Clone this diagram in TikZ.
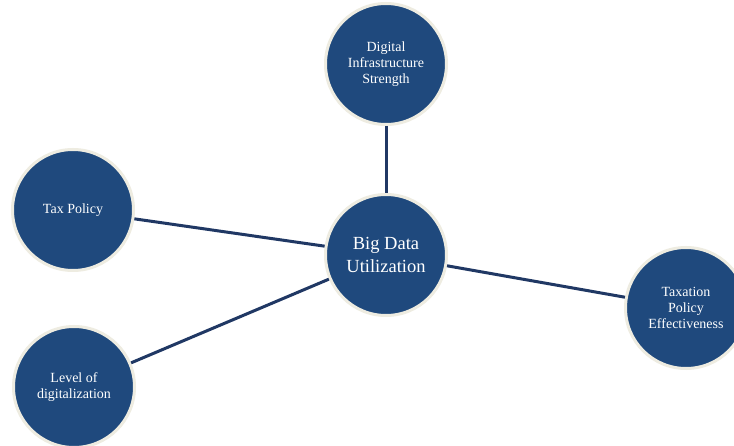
\documentclass[tikz,border=0pt]{standalone}
\usepackage{fontspec}
\setmainfont{Liberation Serif}
\definecolor{navy}{RGB}{31,73,125}
\definecolor{linknavy}{RGB}{32,56,100}
\definecolor{rimcream}{RGB}{238,236,225}
\begin{document}
\begin{tikzpicture}[x=1pt,y=-1pt,
  bubble/.style={circle, fill=navy, draw=rimcream, line width=3pt,
    minimum size=121pt, inner sep=0pt, align=center, text=white,
    font=\fontsize{14}{16}\selectfont},
  hub/.style={bubble, font=\fontsize{18.5}{23}\selectfont},
  link/.style={draw=linknavy, line width=3pt}]
\useasboundingbox[fill=white] (0,0) rectangle (734,446);
\node[hub]    (big)      at (386,255) {Big Data\\Utilization};
\node[bubble] (digital)  at (386,64)  {Digital\\Infrastructure\\Strength};
\node[bubble] (tax)      at (73,210)  {Tax Policy};
\node[bubble] (level)    at (74,387)  {Level of\\digitalization};
\node[bubble] (taxation) at (686,308) {Taxation\\Policy\\Effectiveness};
\path[link] (digital) -- (big);
\path[link] (tax) -- (big);
\path[link] (level) -- (big);
\path[link] (taxation) -- (big);
\end{tikzpicture}
\end{document}
